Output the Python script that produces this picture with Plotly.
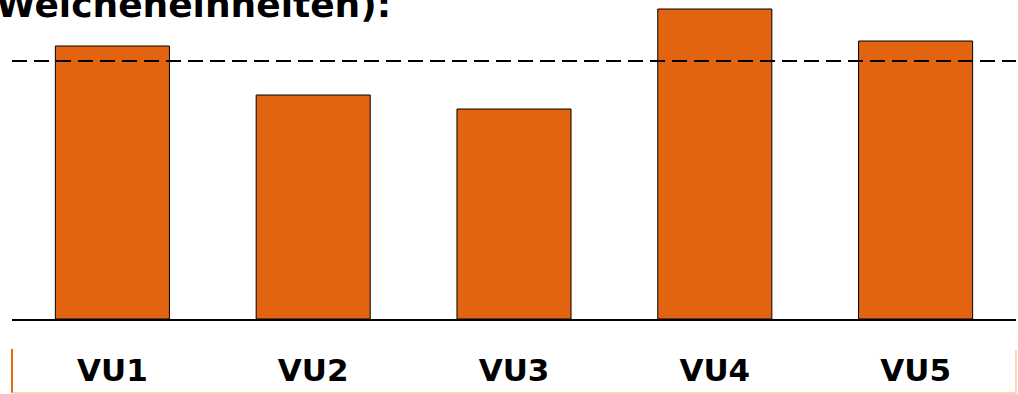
import plotly.graph_objects as go

categories = ["VU1", "VU2", "VU3", "VU4", "VU5"]
values = [273, 224, 210, 310, 278]
average_value = 258
title_text = "Weicheneinheiten):"

bar_color = "#E36410"
W, H = 1018, 394
L, R, T, B = 12, 2, 0, 75
plot_h = H - T - B

def py(p):
    # pixel row -> paper y
    return (plot_h - (p - T)) / plot_h

def px(p):
    return (p - L) / (W - L - R)

fig = go.Figure()
fig.add_trace(go.Bar(
    x=categories, y=values,
    marker=dict(color=bar_color, line=dict(color="black", width=1)),
    width=0.568,
))

fig.add_shape(type="line", xref="paper", yref="y", x0=0, x1=1,
              y0=average_value, y1=average_value,
              line=dict(color="black", width=2, dash="15px,7px"), layer="above")

# label box borders
fig.add_shape(type="line", xref="paper", yref="paper", x0=0, x1=0,
              y0=py(349), y1=py(393), line=dict(color="#E46C0A", width=2))
fig.add_shape(type="line", xref="paper", yref="paper", x0=0, x1=1,
              y0=py(393), y1=py(393), line=dict(color="#F4C8A6", width=1.5))
fig.add_shape(type="line", xref="paper", yref="paper", x0=1, x1=1,
              y0=py(350), y1=py(393), line=dict(color="#F4C8A6", width=1.5))

fig.add_annotation(text="<b>" + title_text + "</b>", xref="paper", yref="paper",
                   x=px(393), y=py(16), xanchor="right", yanchor="bottom",
                   showarrow=False, yshift=-11,
                   font=dict(family="DejaVu Sans", size=36, color="black"))

fig.update_layout(
    width=W, height=H,
    margin=dict(l=L, r=R, t=T, b=B, pad=0),
    paper_bgcolor="white", plot_bgcolor="white",
    showlegend=False,
    xaxis=dict(range=[-0.5, 4.5], showgrid=False, zeroline=False,
               showline=True, linecolor="black", linewidth=2,
               ticks="", ticklabelstandoff=23,
               tickfont=dict(family="DejaVu Sans", size=31, color="black", weight="bold")),
    yaxis=dict(range=[0, plot_h], visible=False, showgrid=False, zeroline=False),
)

fig.write_html("out.html")
